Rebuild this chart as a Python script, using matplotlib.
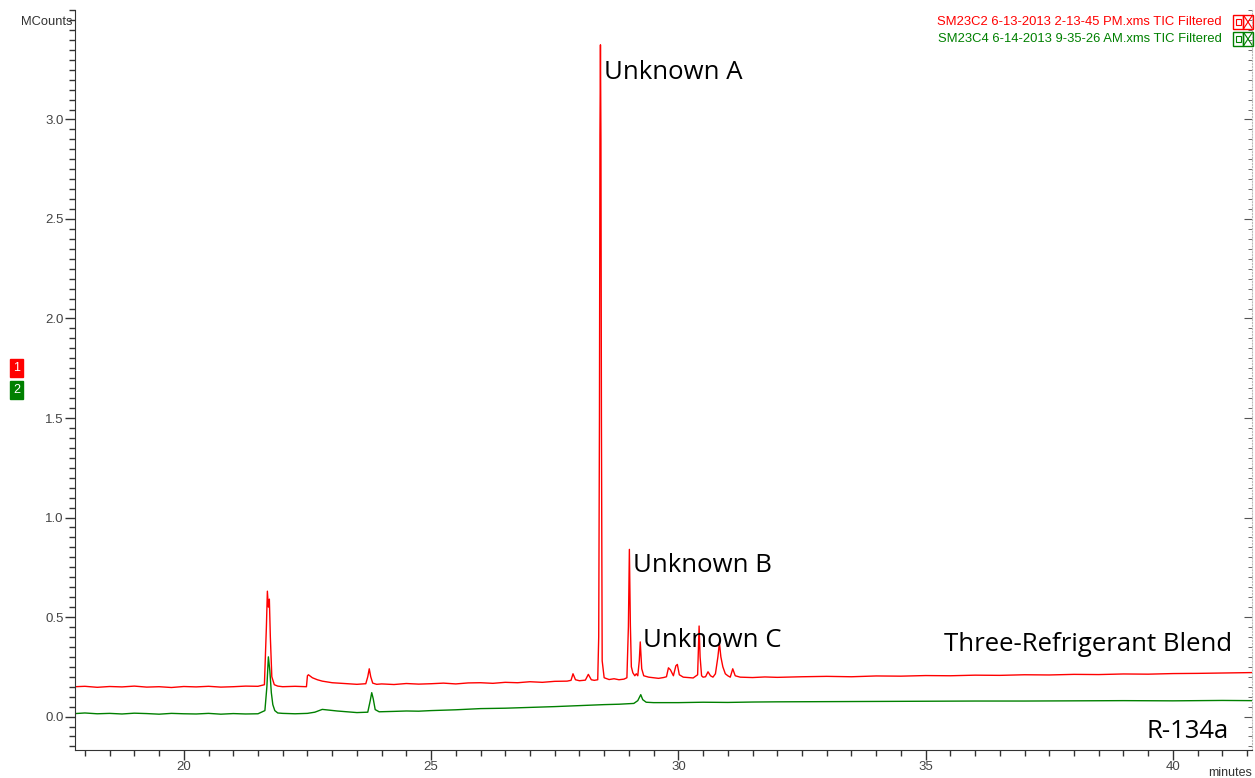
import numpy as np
import matplotlib.pyplot as plt
from matplotlib.patches import Rectangle
from matplotlib.lines import Line2D
from matplotlib.ticker import MultipleLocator, FixedLocator, FormatStrFormatter

# Chromatogram points: (minutes, MCounts)
red_trace = [
    (17.8, 0.150), (18.0, 0.152), (18.25, 0.147), (18.5, 0.151), (18.75, 0.149),
    (19.0, 0.153), (19.25, 0.148), (19.5, 0.150), (19.75, 0.146), (20.0, 0.151),
    (20.25, 0.149), (20.5, 0.152), (20.75, 0.148), (21.0, 0.150), (21.25, 0.153),
    (21.5, 0.152), (21.63, 0.160), (21.67, 0.45), (21.69, 0.63), (21.71, 0.55),
    (21.73, 0.59), (21.75, 0.40), (21.78, 0.20), (21.83, 0.160), (21.9, 0.153),
    (22.0, 0.150), (22.25, 0.152), (22.48, 0.150), (22.5, 0.205), (22.52, 0.210),
    (22.6, 0.195), (22.7, 0.185), (22.8, 0.178), (23.0, 0.170), (23.25, 0.166),
    (23.5, 0.162), (23.68, 0.165), (23.72, 0.200), (23.75, 0.240), (23.78, 0.200),
    (23.82, 0.168), (23.9, 0.162), (24.0, 0.164), (24.25, 0.161), (24.5, 0.166),
    (24.75, 0.163), (25.0, 0.165), (25.25, 0.168), (25.5, 0.164), (25.75, 0.169),
    (26.0, 0.170), (26.25, 0.167), (26.5, 0.172), (26.75, 0.170), (27.0, 0.175),
    (27.25, 0.172), (27.5, 0.177), (27.75, 0.178), (27.83, 0.182), (27.87, 0.215),
    (27.92, 0.185), (28.0, 0.180), (28.12, 0.183), (28.18, 0.212), (28.24, 0.185),
    (28.3, 0.182), (28.37, 0.185), (28.39, 0.40), (28.405, 1.50), (28.415, 2.92),
    (28.425, 3.375), (28.435, 2.90), (28.445, 1.48), (28.46, 0.28), (28.5, 0.195),
    (28.6, 0.186), (28.7, 0.190), (28.8, 0.185), (28.9, 0.188), (28.96, 0.195),
    (28.99, 0.45), (29.01, 0.84), (29.03, 0.46), (29.05, 0.25), (29.08, 0.22),
    (29.12, 0.205), (29.15, 0.215), (29.18, 0.205), (29.21, 0.28), (29.23, 0.375),
    (29.26, 0.24), (29.3, 0.205), (29.4, 0.198), (29.5, 0.195), (29.6, 0.192),
    (29.7, 0.196), (29.76, 0.200), (29.8, 0.245), (29.84, 0.235), (29.9, 0.205),
    (29.95, 0.255), (29.98, 0.262), (30.02, 0.210), (30.1, 0.198), (30.2, 0.196),
    (30.3, 0.194), (30.39, 0.210), (30.42, 0.455), (30.44, 0.300), (30.47, 0.205),
    (30.5, 0.198), (30.55, 0.200), (30.6, 0.225), (30.65, 0.205), (30.7, 0.198),
    (30.75, 0.215), (30.8, 0.300), (30.83, 0.370), (30.86, 0.300), (30.9, 0.250),
    (30.95, 0.215), (31.0, 0.205), (31.05, 0.198), (31.1, 0.240), (31.15, 0.205),
    (31.25, 0.198), (31.5, 0.196), (31.75, 0.199), (32.0, 0.197), (32.5, 0.200),
    (33.0, 0.202), (33.5, 0.200), (34.0, 0.204), (34.5, 0.203), (35.0, 0.206),
    (35.5, 0.205), (36.0, 0.208), (36.5, 0.207), (37.0, 0.210), (37.5, 0.209),
    (38.0, 0.212), (38.5, 0.211), (39.0, 0.214), (39.5, 0.213), (40.0, 0.216),
    (40.5, 0.217), (41.0, 0.219), (41.6, 0.221),
]
green_trace = [
    (17.8, 0.015), (18.0, 0.018), (18.25, 0.014), (18.5, 0.016), (18.75, 0.013),
    (19.0, 0.017), (19.25, 0.015), (19.5, 0.012), (19.75, 0.016), (20.0, 0.014),
    (20.25, 0.013), (20.5, 0.016), (20.75, 0.012), (21.0, 0.015), (21.25, 0.013),
    (21.5, 0.014), (21.64, 0.030), (21.68, 0.150), (21.71, 0.300), (21.74, 0.230),
    (21.77, 0.120), (21.8, 0.060), (21.84, 0.030), (21.9, 0.018), (22.0, 0.016),
    (22.25, 0.014), (22.5, 0.016), (22.65, 0.022), (22.8, 0.036), (22.95, 0.032),
    (23.1, 0.028), (23.3, 0.024), (23.5, 0.020), (23.72, 0.022), (23.77, 0.080),
    (23.8, 0.120), (23.83, 0.090), (23.87, 0.035), (23.95, 0.024), (24.25, 0.026),
    (24.5, 0.028), (24.75, 0.027), (25.0, 0.030), (25.5, 0.034), (26.0, 0.040),
    (26.5, 0.042), (27.0, 0.046), (27.5, 0.050), (28.0, 0.055), (28.5, 0.060),
    (28.8, 0.062), (29.1, 0.066), (29.18, 0.080), (29.24, 0.110), (29.28, 0.085),
    (29.35, 0.072), (29.5, 0.070), (30.0, 0.070), (30.5, 0.072), (31.0, 0.071),
    (31.5, 0.073), (32.0, 0.074), (33.0, 0.075), (34.0, 0.076), (35.0, 0.077),
    (36.0, 0.078), (37.0, 0.078), (38.0, 0.079), (39.0, 0.080), (40.0, 0.079),
    (41.0, 0.081), (41.6, 0.080),
]

y_major = [0.0, 0.5, 1.0, 1.5, 2.0, 2.5, 3.0]
peak_labels = ["Unknown A", "Unknown B", "Unknown C"]
peak_pos = [(28.50, 3.235), (29.09, 0.76), (29.29, 0.38)]
trace_labels = ["Three-Refrigerant Blend", "R-134a"]
trace_pos = [(35.38, 0.36), (39.47, -0.075)]
legend_names = ["SM23C2 6-13-2013 2-13-45 PM.xms TIC Filtered",
                "SM23C4 6-14-2013 9-35-26 AM.xms TIC Filtered"]

RED = '#ff0000'
GREEN = '#008000'
W, H = 1255, 778

fig = plt.figure(figsize=(W / 100, H / 100), dpi=100)
ax = fig.add_axes([75 / W, 1 - 750 / H, (1252 - 75) / W, (750 - 10) / H])

red_t, red_y = zip(*red_trace)
green_t, green_y = zip(*green_trace)
ax.plot(red_t, red_y, color=RED, lw=1.0)
ax.plot(green_t, green_y, color=GREEN, lw=1.0)

ax.set_xlim(17.8, 41.6)
ax.set_ylim(-0.168, 3.55)

ax.xaxis.set_major_locator(MultipleLocator(5))
ax.xaxis.set_minor_locator(MultipleLocator(0.5))
ax.yaxis.set_major_locator(FixedLocator(y_major))
ax.yaxis.set_minor_locator(MultipleLocator(0.05))
ax.yaxis.set_major_formatter(FormatStrFormatter('%.1f'))

ax.spines['top'].set_visible(False)
ax.spines['right'].set_visible(False)
ax.spines['left'].set_color('#333333')
ax.spines['bottom'].set_color('#333333')
ax.tick_params(which='major', direction='out', length=7, width=1, color='#333333',
               labelsize=9.5, labelcolor='#444444', pad=1)
ax.tick_params(which='minor', direction='out', length=4, width=1, color='#333333')
for lab in ax.get_xticklabels() + ax.get_yticklabels():
    lab.set_family('Liberation Sans')

# right side: ticks pointing inward, no labels
sec = ax.secondary_yaxis('right')
sec.yaxis.set_major_locator(FixedLocator(y_major))
sec.yaxis.set_minor_locator(MultipleLocator(0.05))
sec.tick_params(which='both', direction='in', labelright=False, color='#555555')
sec.tick_params(which='major', length=6)
sec.tick_params(which='minor', length=3)
sec.spines['right'].set_color('#bbbbbb')
sec.spines['right'].set_linestyle(':')

for txt, (x, y) in zip(peak_labels + trace_labels, peak_pos + trace_pos):
    ax.text(x, y, txt, fontsize=18.5, family='Open Sans', color='black',
            ha='left', va='center')

# top-right trace names with little box icons
for i, (name, col) in enumerate(zip(legend_names, [RED, GREEN])):
    yc = 22 + 17 * i
    fig.text(1222 / W, 1 - yc / H, name, color=col, fontsize=9.4,
             family='Liberation Sans', ha='right', va='center')
    y0 = 1 - (yc + 7) / H
    for bx in (1233, 1243):
        fig.add_artist(Rectangle((bx / W, y0), 10 / W, 14 / H, fill=False,
                                 ec=col, lw=1, transform=fig.transFigure))
    fig.add_artist(Rectangle((1235.5 / W, 1 - (yc + 3) / H), 5 / W, 6 / H, fill=False,
                             ec=col, lw=0.8, transform=fig.transFigure))
    fig.add_artist(Line2D([1244 / W, 1252 / W], [1 - (yc - 6) / H, 1 - (yc + 6) / H],
                          color=col, lw=0.8, transform=fig.transFigure))
    fig.add_artist(Line2D([1244 / W, 1252 / W], [1 - (yc + 6) / H, 1 - (yc - 6) / H],
                          color=col, lw=0.8, transform=fig.transFigure))

# trace number badges on the left
fig.text(16.5 / W, 1 - 368 / H, '1', color='white', fontsize=9, family='Liberation Sans',
         ha='center', va='center',
         bbox=dict(boxstyle='square,pad=0.25', fc=RED, ec=RED))
fig.text(16.5 / W, 1 - 390 / H, '2', color='white', fontsize=9, family='Liberation Sans',
         ha='center', va='center',
         bbox=dict(boxstyle='square,pad=0.25', fc=GREEN, ec=GREEN))

fig.text(72 / W, 1 - 22 / H, 'MCounts', fontsize=9.3, family='Liberation Sans',
         color='#333333', ha='right', va='center')
fig.text(1252 / W, 1 - 773 / H, 'minutes', fontsize=9, family='Liberation Sans',
         color='#333333', ha='right', va='center')

fig.savefig('out.png', dpi=100)
